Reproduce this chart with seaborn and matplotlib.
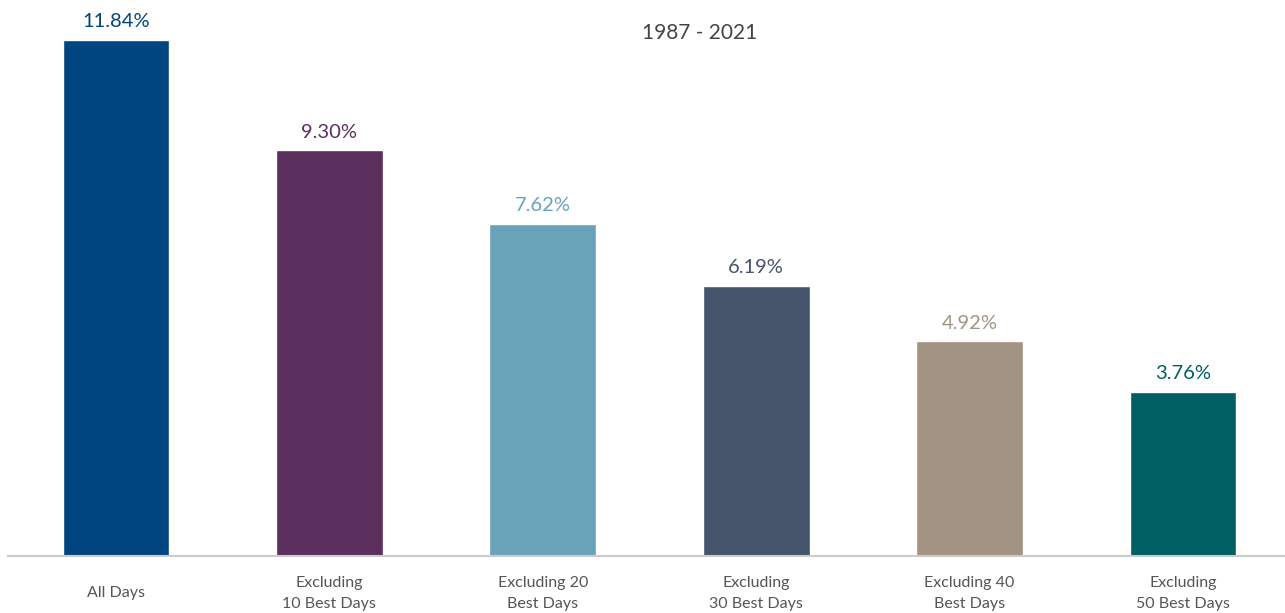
import matplotlib
matplotlib.use("Agg")
import matplotlib.pyplot as plt
import seaborn as sns
import pandas as pd

# Données
categories = ["All Days", "Excluding\n10 Best Days", "Excluding 20\nBest Days",
              "Excluding\n30 Best Days", "Excluding 40\nBest Days", "Excluding\n50 Best Days"]
rendements = [11.84, 9.30, 7.62, 6.19, 4.92, 3.76]
etiquettes = ["11.84%", "9.30%", "7.62%", "6.19%", "4.92%", "3.76%"]
couleurs = ["#00457F", "#5B2F5E", "#68A3BA", "#45546B", "#A39382", "#005F63"]
titre = "1987 - 2021"

df = pd.DataFrame({"cat": categories, "val": rendements})

sns.set_theme(style="white")
plt.rcParams["font.family"] = ["Lato", "DejaVu Sans"]

fig = plt.figure(figsize=(12.85, 6.13), dpi=100)
ax = fig.add_axes([8 / 1285, (613 - 556) / 613, 1277 / 1285, 556 / 613])

sns.barplot(data=df, x="cat", y="val", hue="cat", palette=couleurs,
            legend=False, width=0.5, saturation=1, ax=ax)

for i, (v, lab) in enumerate(zip(rendements, etiquettes)):
    ax.annotate(lab, (i, v), xytext=(0, 7), textcoords="offset points",
                ha="center", va="bottom", fontsize=14.5, color=couleurs[i])

ax.set_xlim(-0.506, 5.478)
ax.set_ylim(0, 12.75)
ax.set_xlabel("")
ax.set_ylabel("")
ax.set_yticks([])
for s in ["top", "right", "left"]:
    ax.spines[s].set_visible(False)
ax.spines["bottom"].set_color("#cccccc")
ax.spines["bottom"].set_linewidth(1.5)

ax.tick_params(axis="x", length=0, pad=27, labelsize=11.5, labelcolor="#555555")
for t in ax.get_xticklabels():
    t.set_va("center")
    t.set_linespacing(1.6)

fig.text(700 / 1285, 1 - 33 / 613, titre, ha="center", va="center",
         fontsize=15, color="#444444")

fig.savefig("out.png", dpi=100)
